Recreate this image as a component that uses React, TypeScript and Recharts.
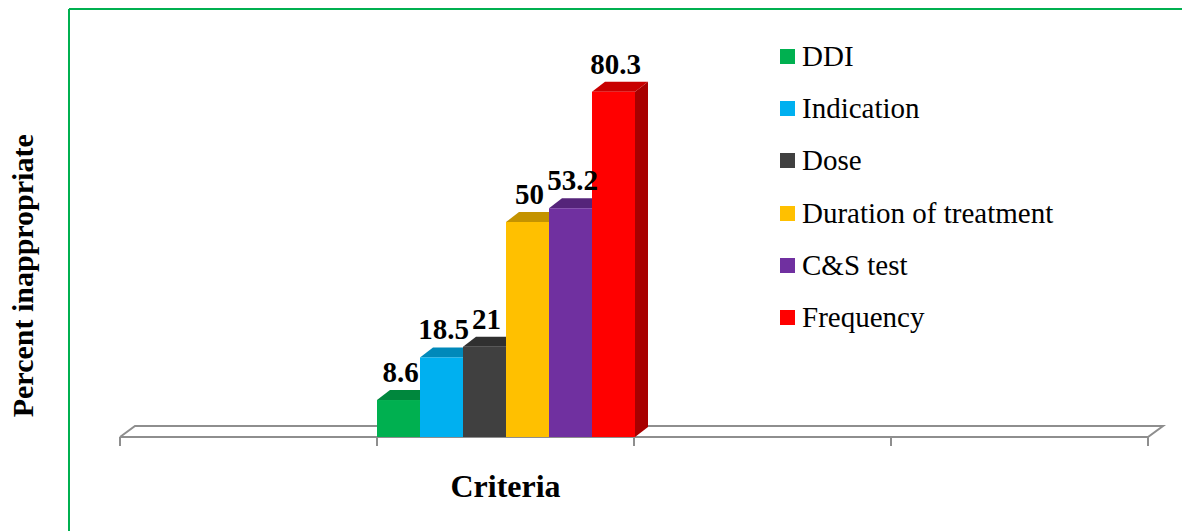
import React from "react";
import { BarChart, Bar, XAxis, YAxis, LabelList } from "recharts";

// ---- data ----
const categories = ["", "Criteria", " ", "  "];
const seriesKeys = ["ddi", "indication", "dose", "duration", "cs", "frequency"];
const seriesNames = ["DDI", "Indication", "Dose", "Duration of treatment", "C&S test", "Frequency"];
const seriesValues = [8.6, 18.5, 21, 50, 53.2, 80.3];
const frontColors = ["#00B050", "#00B0F0", "#404040", "#FFC000", "#7030A0", "#FF0000"];
const topColors = ["#00873D", "#0089BA", "#303030", "#C49300", "#55247A", "#C80000"];
const sideColors = ["#007A36", "#007CA8", "#2A2A2A", "#B08400", "#4B1F6C", "#A80000"];
const yAxisTitle = "Percent inappropriate";
const dataCategoryIndex = 1;

// ---- layout ----
const W = 1182;
const H = 531;
const PLOT_BOTTOM = 437;
const X_AXIS_H = 30;
const M = { top: 7, right: 34, bottom: H - PLOT_BOTTOM - X_AXIS_H, left: 0 };
const Y_AXIS_W = 120;
const DEPTH_X = 13;
const DEPTH_Y = 10;
const SERIF = "'Liberation Serif', 'Times New Roman', serif";

const data = categories.map((c, i) => {
  const row: Record<string, any> = { category: c };
  if (i === dataCategoryIndex) {
    seriesKeys.forEach((k, j) => {
      row[k] = seriesValues[j];
    });
  }
  return row;
});

const makeShape = (idx: number) => (props: any) => {
  const { x, y, width, height } = props;
  if (width == null || height == null || isNaN(x) || isNaN(y)) return <g />;
  const r = x + width;
  const b = y + height;
  return (
    <g>
      <polygon
        points={`${r},${y} ${r + DEPTH_X},${y - DEPTH_Y} ${r + DEPTH_X},${b - DEPTH_Y} ${r},${b}`}
        fill={sideColors[idx]}
      />
      <polygon
        points={`${x},${y} ${x + DEPTH_X},${y - DEPTH_Y} ${r + DEPTH_X},${y - DEPTH_Y} ${r},${y}`}
        fill={topColors[idx]}
      />
      <rect x={x} y={y} width={width} height={height} fill={frontColors[idx]} />
    </g>
  );
};

const ValueLabel = (props: any) => {
  const { x, y, width, value } = props;
  if (value == null) return null;
  return (
    <text
      x={x + width / 2 + 2}
      y={y - DEPTH_Y - 8}
      textAnchor="middle"
      fontFamily={SERIF}
      fontWeight="bold"
      fontSize={29}
      fill="#000"
    >
      {value}
    </text>
  );
};

const CategoryTick = (props: any) => {
  const { x, payload } = props;
  return (
    <text
      x={x}
      y={PLOT_BOTTOM + 60}
      textAnchor="middle"
      fontFamily={SERIF}
      fontWeight="bold"
      fontSize={32}
      fill="#000"
    >
      {payload.value}
    </text>
  );
};

const YTitle = (props: any) => {
  const vb = props.viewBox || { x: 0, y: M.top, width: Y_AXIS_W, height: PLOT_BOTTOM - M.top };
  const cx = vb.x + 22;
  const cy = vb.y + vb.height * 0.625;
  return (
    <text
      x={cx}
      y={cy}
      transform={`rotate(-90 ${cx} ${cy})`}
      textAnchor="middle"
      dominantBaseline="central"
      fontFamily={SERIF}
      fontWeight="bold"
      fontSize={30}
      fill="#000"
    >
      {yAxisTitle}
    </text>
  );
};

const LegendBox = () => (
  <div style={{ position: "absolute", left: 780, top: 30, fontFamily: SERIF }}>
    {seriesNames.map((name, i) => (
      <div key={name} style={{ display: "flex", alignItems: "center", height: 52.3, whiteSpace: "nowrap" }}>
        <div style={{ width: 15, height: 15, background: frontColors[i], marginRight: 7 }} />
        <span style={{ fontSize: 29, color: "#000", lineHeight: "29px" }}>{name}</span>
      </div>
    ))}
  </div>
);

// Floor (3D base plane) and frame, derived from the plot-area layout constants
const Backdrop = () => {
  const left = M.left + Y_AXIS_W;
  const right = W - M.right;
  const base = PLOT_BOTTOM;
  const n = categories.length;
  const band = (right - left) / n;
  const gray = "#8E8E8E";
  return (
    <svg width={W} height={H} style={{ position: "absolute", left: 0, top: 0 }}>
      <line x1={69} y1={9} x2={W} y2={9} stroke="#00B050" strokeWidth={2} />
      <line x1={69} y1={9} x2={69} y2={H} stroke="#00B050" strokeWidth={2} />
      <polyline
        points={`${left},${base} ${left + DEPTH_X + 2},${base - DEPTH_Y - 1} ${right + DEPTH_X + 2},${base - DEPTH_Y - 1} ${right},${base} ${left},${base}`}
        fill="none"
        stroke={gray}
        strokeWidth={2}
      />
      {Array.from({ length: n + 1 }, (_, i) => (
        <line
          key={i}
          x1={left + i * band}
          y1={base}
          x2={left + i * band}
          y2={base + 9}
          stroke={gray}
          strokeWidth={2}
        />
      ))}
    </svg>
  );
};

export default function App() {
  return (
    <div style={{ position: "absolute", left: 0, top: 0, width: W, height: H, background: "#fff" }}>
      <Backdrop />
      <div style={{ position: "absolute", left: 0, top: 0 }}>
        <BarChart width={W} height={H} data={data} margin={M} barCategoryGap={0} barGap={0}>
          <XAxis
            dataKey="category"
            type="category"
            axisLine={false}
            tickLine={false}
            tickSize={0}
            tickMargin={0}
            interval={0}
            height={X_AXIS_H}
            tick={<CategoryTick />}
          />
          <YAxis
            domain={[0, 100]}
            width={Y_AXIS_W}
            tick={false}
            axisLine={false}
            tickLine={false}
            label={{ content: <YTitle /> }}
          />
          {seriesKeys.map((k, i) => (
            <Bar
              key={k}
              dataKey={k}
              name={seriesNames[i]}
              fill={frontColors[i]}
              shape={makeShape(i)}
              isAnimationActive={false}
            >
              <LabelList dataKey={k} content={<ValueLabel />} />
            </Bar>
          ))}
        </BarChart>
      </div>
      <LegendBox />
    </div>
  );
}
